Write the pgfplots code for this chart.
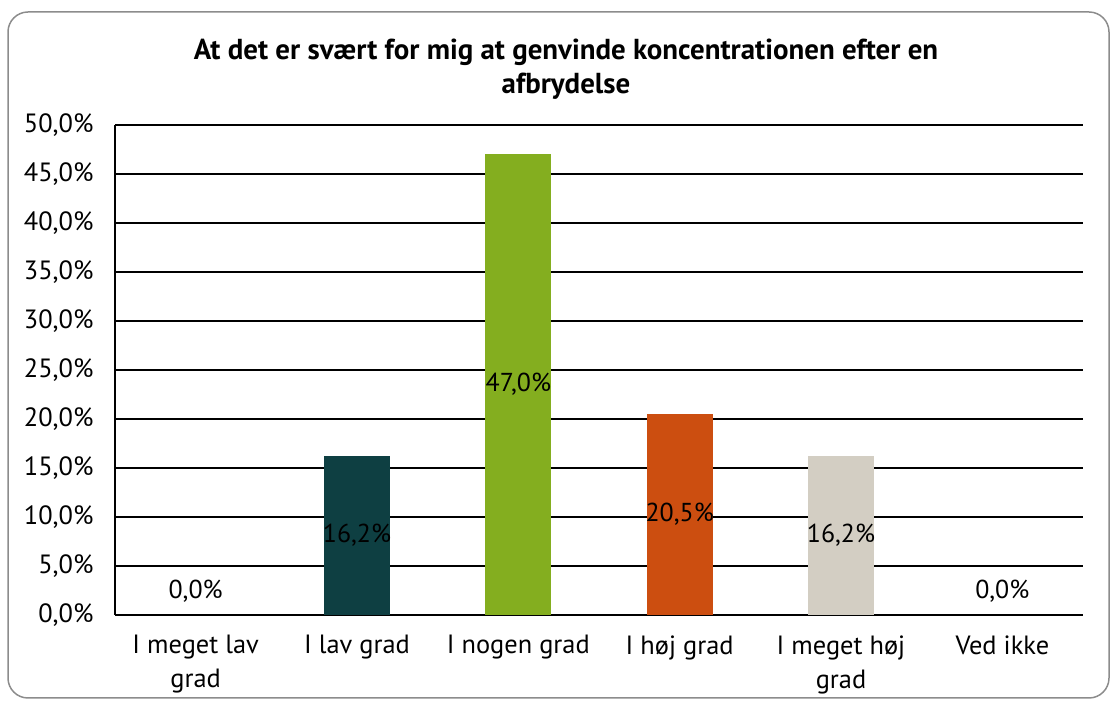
\documentclass[border=0pt]{standalone}
\usepackage{pgfplots}
\pgfplotsset{compat=1.18}
\usepackage{fontspec}
\setmainfont{PT Sans}
\definecolor{c1}{HTML}{0E3F42}
\definecolor{c2}{HTML}{84AE1F}
\definecolor{c3}{HTML}{CC4E10}
\definecolor{c4}{HTML}{D3CEC3}
\pgfplotstableread{
x y lab ypos
0 0.0 {0,0\%} 2.45
1 16.2 {16,2\%} 8.1
2 47.0 {47,0\%} 23.5
3 20.5 {20,5\%} 10.25
4 16.2 {16,2\%} 8.1
5 0.0 {0,0\%} 2.45
}\datatab
\begin{document}
\begin{tikzpicture}[x=1bp,y=1bp]
\path[use as bounding box] (0,0) rectangle (1112,702);
\draw[rounded corners=20bp, black!45, line width=1.5bp] (8,4) rectangle (1109,690);
\node[font=\bfseries\fontsize{29}{34}\selectfont, align=center] at (566,633) {At det er svært for mig at genvinde koncentrationen efter en\\afbrydelse};
\begin{axis}[at={(115bp,87bp)}, anchor=south west, width=968bp, height=490bp, scale only axis,
  ymin=0, ymax=50, xmin=-0.5, xmax=5.5,
  ytick={0,5,...,50}, xtick={0,...,5},
  xticklabels={{I meget lav\\grad},{I lav grad},{I nogen grad},{I høj grad},{I meget høj\\grad},{Ved ikke}},
  xticklabel style={align=center, font=\fontsize{26.5}{34}\selectfont},
  yticklabel style={font=\fontsize{26.5}{28}\selectfont},
  /pgf/number format/assume math mode=true,
  yticklabel={\pgfmathprintnumber[fixed,fixed zerofill,precision=1,use comma]{\tick}\%},
  ymajorgrids, grid style={black, line width=1.3bp},
  axis x line*=bottom, axis y line*=left,
  axis line style={black, line width=1.3bp, -},
  xtick style={draw=none}, ytick style={draw=none},
  yticklabel style={xshift=-18bp},
  xticklabel style={yshift=-17bp},
  clip=false,
]
\addplot[ybar, bar width=66bp, bar shift=0pt, fill=c1, draw=none] coordinates {(1,16.2)};
\addplot[ybar, bar width=66bp, bar shift=0pt, fill=c2, draw=none] coordinates {(2,47.0)};
\addplot[ybar, bar width=66bp, bar shift=0pt, fill=c3, draw=none] coordinates {(3,20.5)};
\addplot[ybar, bar width=66bp, bar shift=0pt, fill=c4, draw=none] coordinates {(4,16.2)};
\addplot[draw=none, mark=none, nodes near coords, point meta=explicit symbolic,
  every node near coord/.append style={anchor=center, font=\fontsize{26}{28}\selectfont, text=black}]
  table[x=x, y=ypos, meta=lab] {\datatab};
\end{axis}
\end{tikzpicture}
\end{document}
